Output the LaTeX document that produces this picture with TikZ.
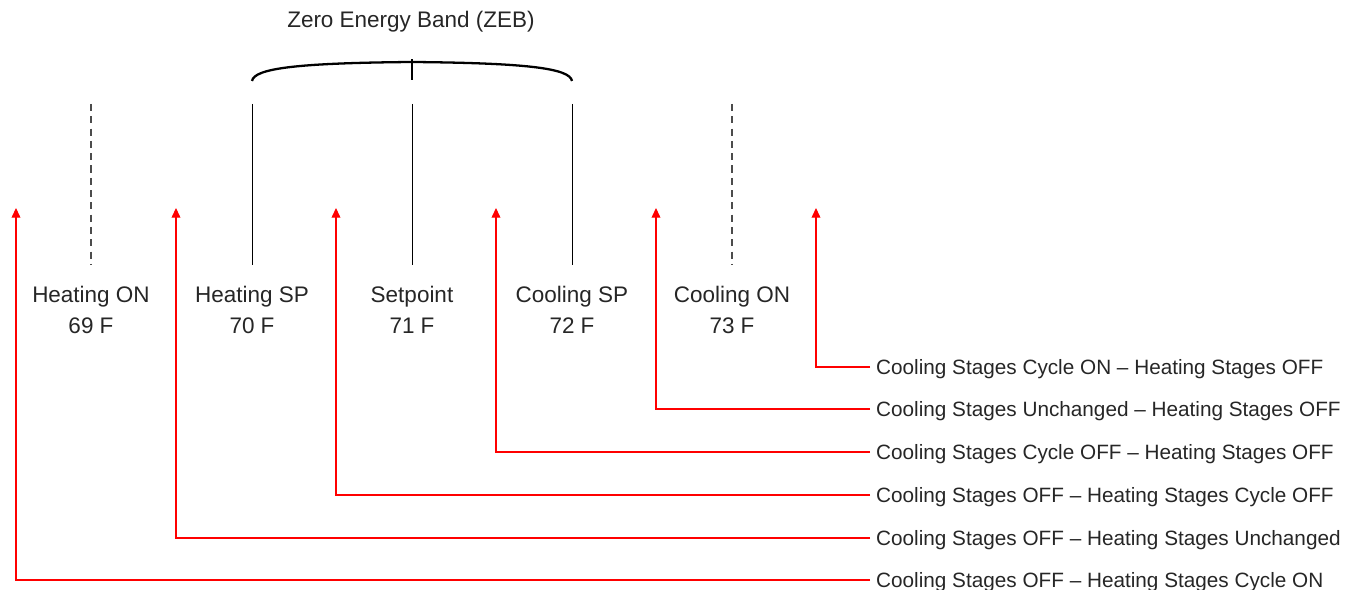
\documentclass[tikz,border=0pt]{standalone}
\usepackage{fontspec}
\setmainfont{Liberation Sans}
\usetikzlibrary{arrows.meta}

\begin{document}
\begin{tikzpicture}[x=0.02cm,y=-0.02cm,
                    lbl/.style={align=center,text=black!85,font=\fontsize{12.8}{18}\selectfont},
                    state/.style={anchor=west,text=black!85,text depth=0pt,font=\fontsize{11.8}{13}\selectfont},
                    band/.style={draw=black,line width=0.5pt},
                    onoff/.style={draw=black!70,dash pattern=on 4pt off 3pt,line width=0.6pt},
                    redarrow/.style={draw=red,line width=0.6pt,-{Triangle[width=5pt,length=5.5pt]}}]
    \useasboundingbox (0,0) rectangle (1350,590);
    % column labels
    \node[lbl] (hon) at (91,310)  {Heating ON\\69 F};
    \node[lbl] (hsp) at (252,310) {Heating SP\\70 F};
    \node[lbl] (set) at (412,310) {Setpoint\\71 F};
    \node[lbl] (csp) at (572,310) {Cooling SP\\72 F};
    \node[lbl] (con) at (732,310) {Cooling ON\\73 F};
    % marker lines
    \foreach \n/\x/\s in {hon/91/onoff,hsp/252/band,set/412/band,csp/572/band,con/732/onoff}{
        \coordinate (\n top) at (\x,104);
        \coordinate (\n bot) at (\x,265);
        \draw[\s] (\n top) -- (\n bot);
    }
    % zero energy band
    \node[lbl] (zeb) at (411,22) {Zero Energy Band (ZEB)};
    \coordinate (bl) at (252,81);
    \coordinate (bm) at (412,62);
    \coordinate (br) at (572,81);
    \draw[line width=1.3pt] (bl) .. controls (254,68) and (300,63) .. (bm)
                                 .. controls (524,63) and (570,68) .. (br);
    \draw[line width=1.3pt] (bm) -- ++(0,-3) (bm) -- ++(0,18);
    % states
    \foreach \y/\ax/\txt [count=\i] in {
        367/816/{Cooling Stages Cycle ON – Heating Stages OFF},
        409/656/{Cooling Stages Unchanged – Heating Stages OFF},
        452/496/{Cooling Stages Cycle OFF – Heating Stages OFF},
        495/336/{Cooling Stages OFF – Heating Stages Cycle OFF},
        538/176/{Cooling Stages OFF – Heating Stages Unchanged},
        580/16/{Cooling Stages OFF – Heating Stages Cycle ON}}{
        \node[state] (s\i) at (870,\y) {\txt};
        \coordinate (t\i) at (\ax,208);
        \draw[redarrow] (s\i.west) -| (t\i);
    }
\end{tikzpicture}
\end{document}
